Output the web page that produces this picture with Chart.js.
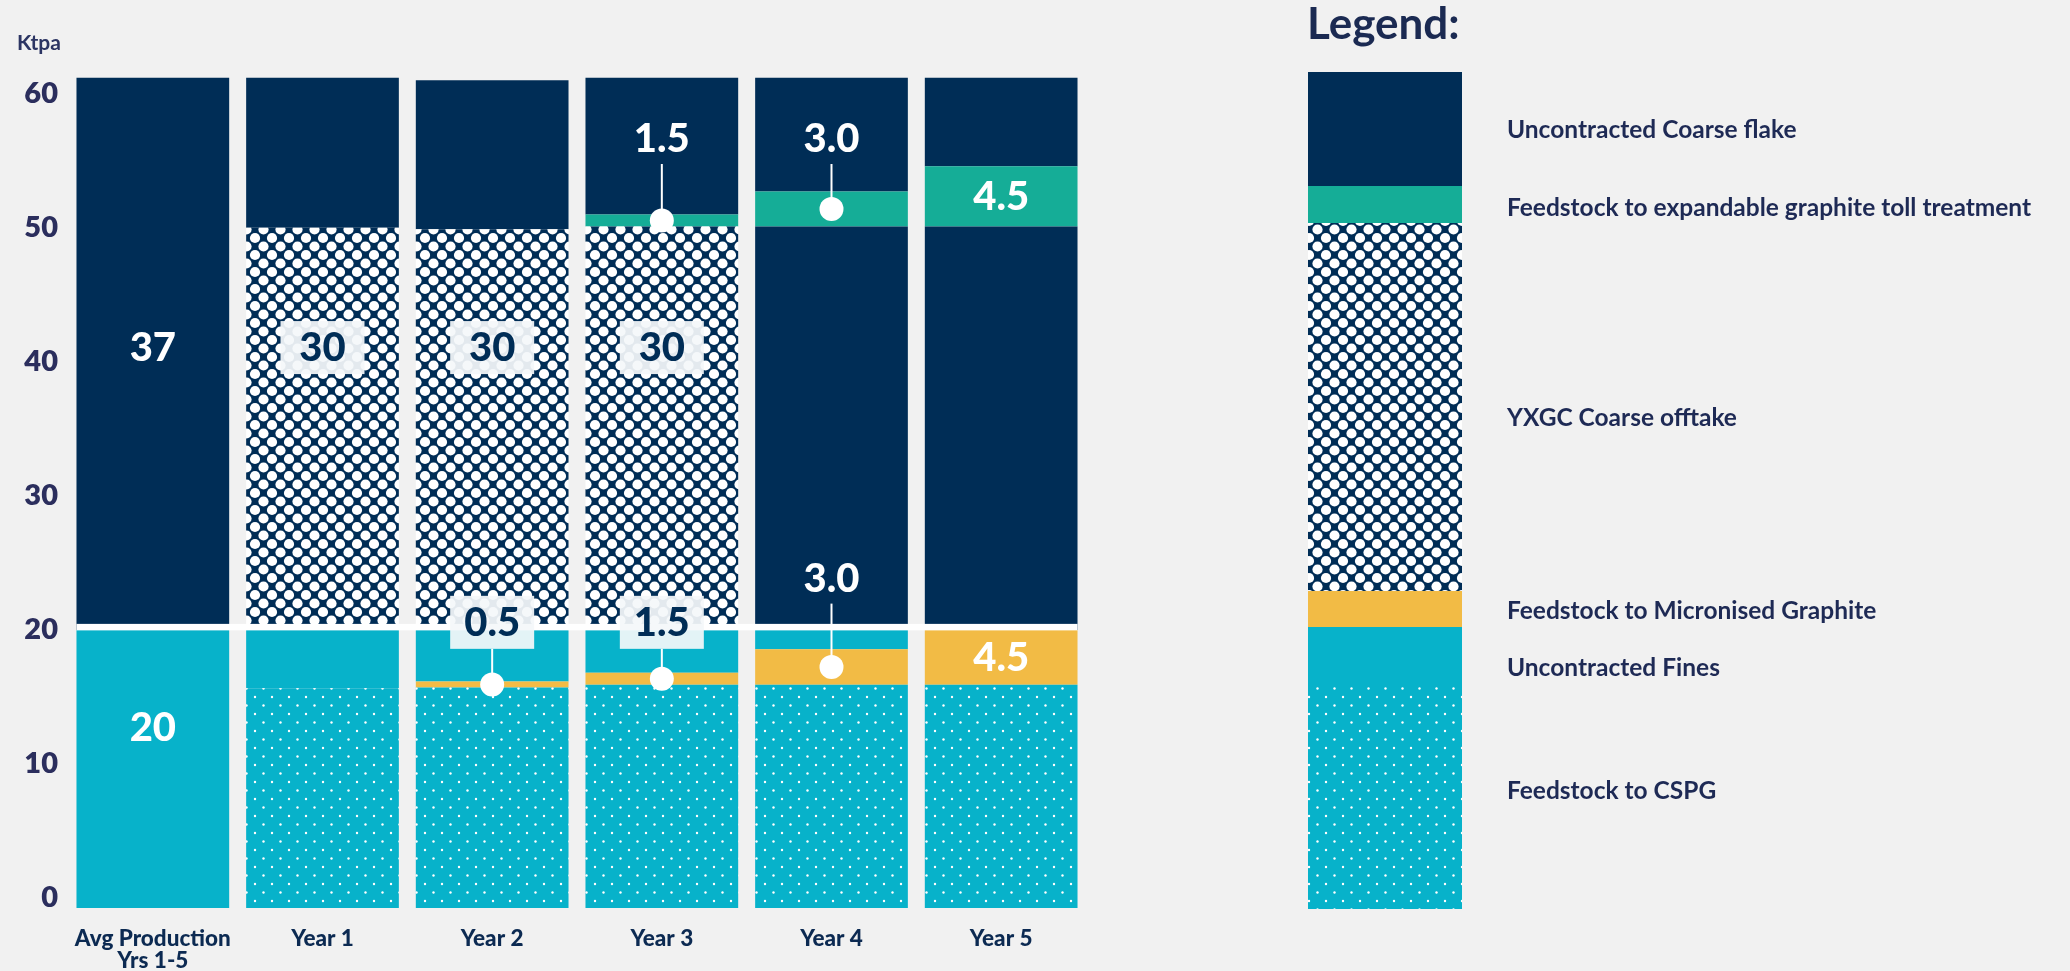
<!DOCTYPE html>
<html>
<head>
<meta charset="utf-8">
<script src="https://cdn.jsdelivr.net/npm/chart.js@4.4.1/dist/chart.umd.min.js"></script>
<style>
  html, body { margin: 0; padding: 0; background: #f1f1f1; }
  body { width: 2070px; height: 971px; position: relative; overflow: hidden; }
  #chartWrap { position: absolute; left: 0; top: 0; width: 1100px; height: 971px; }
  #legendBar { position: absolute; left: 0; top: 0; }
  .legend-title { position: absolute; left: 1307px; top: 0px; font: bold 44px Lato, sans-serif; color: #1b2a52; line-height: 1; }
  .legend-text { position: absolute; left: 1507px; transform: translateY(-50%); font: bold 24.5px Lato, sans-serif; color: #1e2a55; white-space: nowrap; line-height: 1; }
</style>
</head>
<body>
<div id="chartWrap"><canvas id="chart" width="1100" height="971"></canvas></div>
<canvas id="legendBar" width="2070" height="971"></canvas>
<div class="legend-title">Legend:</div>
<div id="legendTexts"></div>
<script>
// categorias e eixo
const categories = [['Avg Production', 'Yrs 1-5'], 'Year 1', 'Year 2', 'Year 3', 'Year 4', 'Year 5'];
const yTicks = [0, 10, 20, 30, 40, 50, 60];

// pilha de baixo (até a linha dos 20 kt)
const feedstockCSPG       = [0, 15.65, 15.7, 15.9, 15.9, 15.9];
const feedstockMicronised = [0, 0, 0.45, 0.9, 2.65, 4.1];
const uncontractedFines   = [20, 4.35, 3.85, 3.2, 1.45, 0];

// pilha de cima
const yxgcOfftake          = [0, 30, 29.9, 30.1, 0, 0];
const uncontractedCoarseLo = [0, 0, 0, 0, 30.1, 30.1];
const feedstockExpandable  = [0, 0, 0, 0.9, 2.6, 4.5];
const uncontractedCoarse   = [41.2, 11.2, 11.1, 10.2, 8.5, 6.6];

// textos impressos nas barras
const coarseLabels     = ['37', '', '', '', '', ''];
const finesLabels      = ['20', '', '', '', '', ''];
const yxgcLabels       = ['', '30', '30', '30', '', ''];
const expandableLabels = ['', '', '', '1.5', '3.0', '4.5'];
const micronisedLabels = ['', '', '0.5', '1.5', '3.0', '4.5'];

const NAVY = '#002d56';
const CYAN = '#07b2ca';
const TEAL = '#15ad97';
const YELLOW = '#f2bb45';

function makePattern(ctx, bg, dot, r, size) {
    const tile = document.createElement('canvas');
    tile.width = size;
    tile.height = size;
    const g = tile.getContext('2d');
    g.fillStyle = bg;
    g.fillRect(0, 0, size, size);
    g.fillStyle = dot;
    [[0, 0], [size, 0], [0, size], [size, size], [size / 2, size / 2]].forEach(([x, y]) => {
        g.beginPath();
        g.arc(x, y, r, 0, Math.PI * 2);
        g.fill();
    });
    return ctx.createPattern(tile, 'repeat');
}

const canvas = document.getElementById('chart');
const ctx = canvas.getContext('2d');
const circlesFill = makePattern(ctx, NAVY, '#ffffff', 5.1, 17);
const dotsFill = makePattern(ctx, CYAN, '#ffffff', 1.2, 17);

const datasets = [
    { key: 'cspg', label: 'Feedstock to CSPG', data: feedstockCSPG, backgroundColor: dotsFill },
    { key: 'micronised', label: 'Feedstock to Micronised Graphite', data: feedstockMicronised, backgroundColor: YELLOW },
    { key: 'fines', label: 'Uncontracted Fines', data: uncontractedFines, backgroundColor: CYAN },
    { key: 'yxgc', label: 'YXGC Coarse offtake', data: yxgcOfftake, backgroundColor: circlesFill },
    { key: 'coarseLo', label: 'Uncontracted Coarse flake', data: uncontractedCoarseLo, backgroundColor: NAVY },
    { key: 'expandable', label: 'Feedstock to expandable graphite toll treatment', data: feedstockExpandable, backgroundColor: TEAL },
    { key: 'coarse', label: 'Uncontracted Coarse flake', data: uncontractedCoarse, backgroundColor: NAVY },
];

const labelTexts = {
    coarse: coarseLabels,
    fines: finesLabels,
    yxgc: yxgcLabels,
    expandable: expandableLabels,
    micronised: micronisedLabels,
};

// onde cada rótulo fica (y em unidades do eixo; sem y = centro do segmento)
const labelPlacement = [
    { series: 'coarse', bar: 0, style: 'plain', y: 41.1 },
    { series: 'fines', bar: 0, style: 'plain', y: 12.75 },
    { series: 'yxgc', bar: 1, style: 'box', y: 41.1 },
    { series: 'yxgc', bar: 2, style: 'box', y: 41.1 },
    { series: 'yxgc', bar: 3, style: 'box', y: 41.1 },
    { series: 'expandable', bar: 3, style: 'plain', y: 56.7, pin: true },
    { series: 'expandable', bar: 4, style: 'plain', y: 56.7, pin: true },
    { series: 'expandable', bar: 5, style: 'plain' },
    { series: 'micronised', bar: 2, style: 'box', y: 20.6, pin: true },
    { series: 'micronised', bar: 3, style: 'box', y: 20.6, pin: true },
    { series: 'micronised', bar: 4, style: 'plain', y: 23.9, pin: true },
    { series: 'micronised', bar: 5, style: 'plain' },
];

// as barras descem um pouco abaixo do zero no original
const extendBase = {
    id: 'extendBase',
    beforeDatasetsDraw(chart) {
        const zero = chart.scales.y.getPixelForValue(0);
        chart.data.datasets.forEach((ds, i) => {
            chart.getDatasetMeta(i).data.forEach(el => {
                if (Math.abs(el.base - zero) < 0.5 && Math.abs(el.y - el.base) > 0.5) {
                    el.base = chart.chartArea.bottom;
                }
            });
        });
    }
};

const annotate = {
    id: 'annotate',
    afterDatasetsDraw(chart) {
        const c = chart.ctx;
        const yScale = chart.scales.y;
        const metas = {};
        chart.data.datasets.forEach((ds, i) => { metas[ds.key] = chart.getDatasetMeta(i); });
        const bars = metas.cspg.data;

        // linha branca separando finos e grossos
        const first = bars[0], last = bars[bars.length - 1];
        const y20 = yScale.getPixelForValue(20);
        c.save();
        c.fillStyle = '#ffffff';
        c.fillRect(first.x - first.width / 2, y20 - 6, (last.x + last.width / 2) - (first.x - first.width / 2), 6.5);

        c.font = '900 40px Lato';
        c.textAlign = 'center';
        c.textBaseline = 'middle';

        labelPlacement.forEach(p => {
            const text = labelTexts[p.series][p.bar];
            if (!text) return;
            const el = metas[p.series].data[p.bar];
            const x = el.x;
            const mid = (el.y + el.base) / 2;
            const ty = p.y != null ? yScale.getPixelForValue(p.y) : mid;

            if (p.pin) {
                const startY = p.style === 'box' ? ty + 27 : ty + 26;
                c.strokeStyle = '#ffffff';
                c.lineWidth = 2;
                c.beginPath();
                c.moveTo(x, startY);
                c.lineTo(x, mid);
                c.stroke();
                c.fillStyle = '#ffffff';
                c.beginPath();
                c.arc(x, mid, 12, 0, Math.PI * 2);
                c.fill();
            }
            if (p.style === 'box') {
                c.fillStyle = 'rgba(244, 247, 250, 0.93)';
                c.fillRect(x - 42, ty - 26, 84, 53);
                c.fillStyle = NAVY;
            } else {
                c.fillStyle = '#ffffff';
            }
            c.fillText(text, x, ty + 1);
        });

        c.font = 'bold 21px Lato';
        c.fillStyle = '#2c3563';
        c.textAlign = 'left';
        c.fillText('Ktpa', 17, 43);
        c.restore();
    }
};

new Chart(ctx, {
    type: 'bar',
    data: { labels: categories, datasets: datasets },
    options: {
        responsive: false,
        animation: false,
        layout: { padding: { top: 77, right: 14, left: 0, bottom: 0 } },
        datasets: { bar: { categoryPercentage: 1, barPercentage: 0.9, borderWidth: 0 } },
        plugins: { legend: { display: false }, tooltip: { enabled: false } },
        scales: {
            x: {
                stacked: true,
                grid: { display: false, drawTicks: false },
                border: { display: false },
                ticks: {
                    color: '#0c2a52',
                    font: { family: 'Lato', size: 22.5, weight: '900', lineHeight: 0.97 },
                    padding: 20,
                    maxRotation: 0,
                    autoSkip: false
                },
                afterFit: s => { s.height = 63; }
            },
            y: {
                stacked: true,
                min: -0.75,
                max: 61.25,
                grid: { display: false, drawTicks: false },
                border: { display: false },
                afterBuildTicks: s => { s.ticks = yTicks.map(v => ({ value: v })); },
                ticks: {
                    color: '#2b2e5d',
                    font: { family: 'Lato', size: 29, weight: '800' },
                    padding: 10
                },
                afterFit: s => { s.width = 68; }
            }
        }
    },
    plugins: [extendBase, annotate]
});

// legenda: uma barra empilhada desenhada à direita
const legendEntries = [
    { label: 'Uncontracted Coarse flake', fill: NAVY, top: 72, bottom: 186, textY: 129 },
    { label: 'Feedstock to expandable graphite toll treatment', fill: TEAL, top: 186, bottom: 223, textY: 207 },
    { label: 'YXGC Coarse offtake', fill: circlesFill, top: 223, bottom: 591, textY: 417 },
    { label: 'Feedstock to Micronised Graphite', fill: YELLOW, top: 591, bottom: 627, textY: 610 },
    { label: 'Uncontracted Fines', fill: CYAN, top: 627, bottom: 687, textY: 667 },
    { label: 'Feedstock to CSPG', fill: dotsFill, top: 687, bottom: 909, textY: 790 },
];

const lctx = document.getElementById('legendBar').getContext('2d');
const legendTexts = document.getElementById('legendTexts');
legendEntries.forEach(e => {
    lctx.fillStyle = e.fill;
    lctx.fillRect(1308, e.top, 154, e.bottom - e.top);
    const div = document.createElement('div');
    div.className = 'legend-text';
    div.style.top = e.textY + 'px';
    div.textContent = e.label;
    legendTexts.appendChild(div);
});
</script>
</body>
</html>
